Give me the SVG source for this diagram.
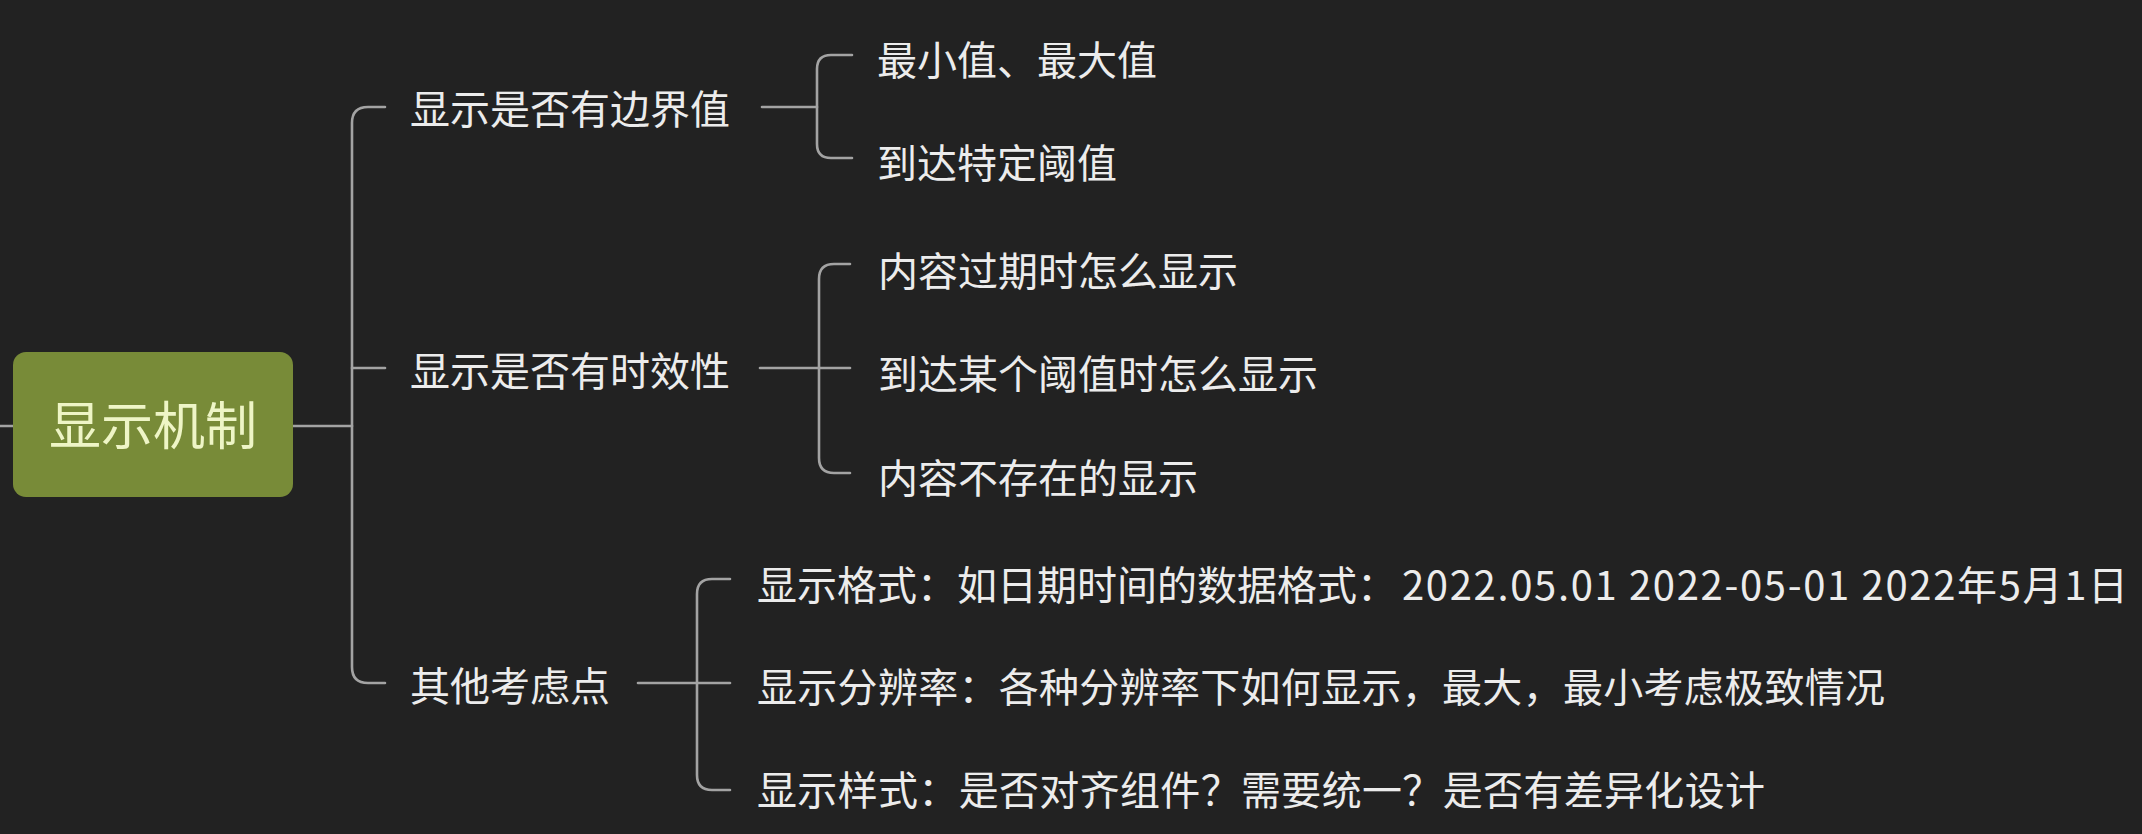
<svg xmlns="http://www.w3.org/2000/svg" width="2142" height="834" viewBox="0 0 2142 834">
  <style>
    .bg { fill: #222222; }
    .link { fill: none; stroke: #a3a3a3; stroke-width: 2.6; stroke-linecap: round; }
    .label { font-family: "Noto Sans CJK SC", "Noto Sans", sans-serif; font-size: 40px; fill: #ececec; }
    .root-box { fill: #788b38; }
    .root-label { font-family: "Noto Sans CJK SC", "Noto Sans", sans-serif; font-size: 52px; fill: #eef5c6; text-anchor: middle; }
  </style>
  <rect class="bg" x="0" y="0" width="2142" height="834"/>

  <!-- connectors -->
  <g id="connectors">
    <!-- root stubs -->
    <path class="link" d="M0 426 H13"/>
    <path class="link" d="M293 426 H352"/>
    <!-- main trunk to first-level topics -->
    <path class="link" d="M385 107 H368 Q352 107 352 123 V667 Q352 683 368 683 H385"/>
    <path class="link" d="M352 368 H385"/>
    <!-- boundary values -->
    <path class="link" d="M762 107 H817"/>
    <path class="link" d="M852 55 H831 Q817 55 817 69 V144 Q817 158 831 158 H852"/>
    <!-- timeliness -->
    <path class="link" d="M760 368 H850"/>
    <path class="link" d="M850 264 H834 Q819 264 819 279 V458 Q819 473 834 473 H850"/>
    <!-- other considerations -->
    <path class="link" d="M638 683 H730"/>
    <path class="link" d="M730 579 H712 Q697 579 697 594 V775 Q697 790 712 790 H730"/>
  </g>

  <!-- root -->
  <g id="root">
    <rect class="root-box" x="13" y="352" width="280" height="145" rx="13"/>
    <text class="root-label" x="153" y="445">显示机制</text>
  </g>

  <!-- first-level topics -->
  <g id="topic-boundary">
    <text class="label" x="410" y="124">显示是否有边界值</text>
  </g>
  <g id="topic-timeliness">
    <text class="label" x="410" y="386">显示是否有时效性</text>
  </g>
  <g id="topic-other">
    <text class="label" x="410" y="701">其他考虑点</text>
  </g>

  <!-- boundary children -->
  <g id="boundary-minmax">
    <text class="label" x="877" y="75">最小值、最大值</text>
  </g>
  <g id="boundary-threshold">
    <text class="label" x="877" y="178">到达特定阈值</text>
  </g>

  <!-- timeliness children -->
  <g id="time-expired">
    <text class="label" x="878" y="286">内容过期时怎么显示</text>
  </g>
  <g id="time-threshold">
    <text class="label" x="878" y="389">到达某个阈值时怎么显示</text>
  </g>
  <g id="time-missing">
    <text class="label" x="878" y="493">内容不存在的显示</text>
  </g>

  <!-- other children -->
  <g id="other-format">
    <text class="label" x="757" y="600">显示格式：如日期时间的数据格式：<tspan x="1402" textLength="726" lengthAdjust="spacing">2022.05.01 2022-05-01 2022年5月1日</tspan></text>
  </g>
  <g id="other-resolution">
    <text class="label" x="757" y="702" textLength="1128" lengthAdjust="spacing">显示分辨率：各种分辨率下如何显示，最大，最小考虑极致情况</text>
  </g>
  <g id="other-style">
    <text class="label" x="757" y="805" textLength="1008" lengthAdjust="spacing">显示样式：是否对齐组件？需要统一？是否有差异化设计</text>
  </g>
</svg>
